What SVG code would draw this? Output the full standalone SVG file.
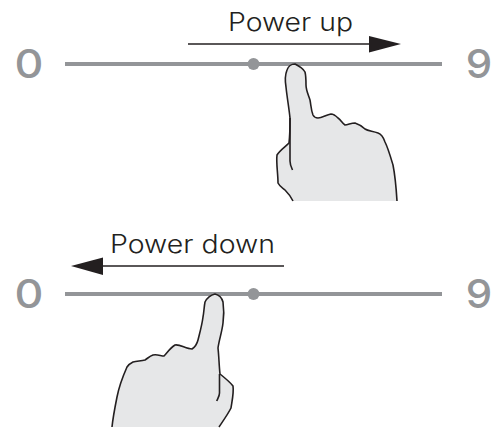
<svg xmlns="http://www.w3.org/2000/svg" width="494" height="428" viewBox="0 0 494 428">
<style>
.track{stroke:#939598;stroke-width:4;fill:none}
.dot{fill:#939598}
.digit{font-family:"Inter","Liberation Sans",sans-serif;font-size:40px;font-weight:500;fill:#939598}
.label{font-family:"Inter","Liberation Sans",sans-serif;font-size:25px;font-weight:300;fill:#231f20}
.arrow{stroke:#231f20;stroke-width:1.6;fill:none}
.head{fill:#231f20}
.hand{fill:#e6e7e8;stroke:#231f20;stroke-width:1.6;stroke-linejoin:round}
.crease{fill:none;stroke:#231f20;stroke-width:1.6}
</style>
<g id="slider-up">
<line class="track" x1="65" y1="64" x2="442" y2="64"/>
<circle class="dot" cx="253.500" cy="64" r="6"/>
<text class="digit" x="29" y="78.500" text-anchor="middle" transform="translate(29 0) scale(1.12 1) translate(-29 0)">0</text>
<text class="digit" x="479" y="78.500" text-anchor="middle" transform="translate(479 0) scale(1.05 1) translate(-479 0)">9</text>
</g>
<g id="slider-down">
<line class="track" x1="65" y1="294" x2="442" y2="294"/>
<circle class="dot" cx="253.500" cy="294" r="6"/>
<text class="digit" x="29" y="308.500" text-anchor="middle" transform="translate(29 0) scale(1.12 1) translate(-29 0)">0</text>
<text class="digit" x="479" y="308.500" text-anchor="middle" transform="translate(479 0) scale(1.05 1) translate(-479 0)">9</text>
</g>
<g id="connectors">
<line class="arrow" x1="188" y1="44" x2="372" y2="44"/>
<polygon class="head" points="369,36 401,44 369,52.500"/>
<line class="arrow" x1="284" y1="266" x2="100" y2="266"/>
<polygon class="head" points="103,257.500 71,266 103,275"/>
</g>
<g id="label-up"><text class="label" x="228" y="31" textLength="125" lengthAdjust="spacingAndGlyphs">Power up</text></g>
<g id="label-down"><text class="label" x="110" y="253" textLength="165" lengthAdjust="spacingAndGlyphs">Power down</text></g>
<g id="hand-up">
<path class="hand" d="M397,201C396,185 395,175 393,165C390,155 388,148 385,142C383,136 381,134 378,133C372,131 368,131 365,129C362,126 358,124 355,123C351,123 348,125 345,125C342,123 341,120 338,118C335,115 333,114 331,114C326,115 322,118 318,118C315,118 314,117 313,115C311,110 311,105 310,100C308,94 306,90 306,85C306,80 306,76 305,72C303,68 299,66 295,64C291,64 288,67 287,70C285,75 285,81 286,87C287,97 289,108 290,118C290,127 290,135 289,143C285,147 280,150 277,155C276,163 278,173 278,183C280,187 283,188 285,190C288,193 291,197 293,201"/>
<path class="crease" d="M290,118V161C290,165 291,167 292.500,170"/>
</g>
<g id="hand-down">
<path class="hand" d="M112,427C113,417 115,407 117,397C119,387 123,376 127,367C129,364 131,363 133,362C137,361 141,361 145,360C148,358 150,356 153,355C157,354 161,356 164,356C167,353 170,348 175,345C180,344 186,349 192,349C195,347 197,344 198,340C200,332 202,325 203,317C204,312 204,307 205,302C207,298 211,295 215,294C219,295 222,298 223,302C224,309 224,316 223,323C222,332 219,340 218,348C219,357 219,365 220,374C225,378 230,382 233,386C234,393 232,401 231,408C228,414 223,421 219,427"/>
<path class="crease" d="M219.500,374V393C219.500,396 218,398 216.700,401"/>
</g>
</svg>
